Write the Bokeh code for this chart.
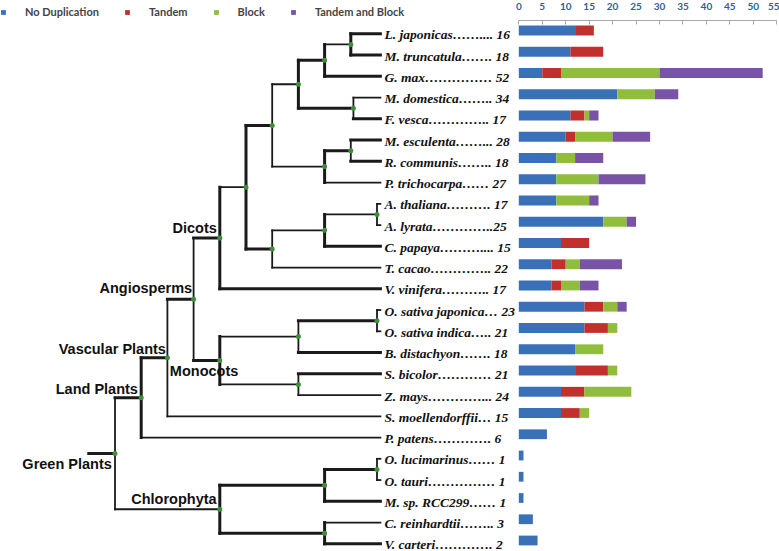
from bokeh.plotting import figure
from bokeh.models import (ColumnDataSource, Legend, LegendItem, Range1d, FixedTicker,
                          LinearAxis)
from bokeh.embed import file_html
from bokeh.resources import INLINE
from bokeh.core.properties import value

# ---------------- data ----------------
species = ["L. japonicas", "M. truncatula", "G. max", "M. domestica", "F. vesca",
           "M. esculenta", "R. communis", "P. trichocarpa", "A. thaliana", "A. lyrata",
           "C. papaya", "T. cacao", "V. vinifera", "O. sativa japonica", "O. sativa indica",
           "B. distachyon", "S. bicolor", "Z. mays", "S. moellendorffii", "P. patens",
           "O. lucimarinus", "O. tauri", "M. sp. RCC299", "C. reinhardtii", "V. carteri"]

species_labels = ["L. japonicas…….... 16", "M. truncatula……. 18", "G. max…………… 52",
                  "M. domestica……..  34", "F. vesca………….. 17", "M. esculenta……...  28",
                  "R. communis…….. 18", "P. trichocarpa…… 27", "A. thaliana………. 17",
                  "A. lyrata…………..25", "C. papaya……….... 15", "T. cacao………….. 22",
                  "V. vinifera……….. 17", "O. sativa japonica… 23", "O. sativa indica….. 21",
                  "B. distachyon……. 18", "S. bicolor………… 21", "Z. mays…………... 24",
                  "S. moellendorffii… 15", "P. patens…………. 6", "O. lucimarinus…… 1",
                  "O. tauri…………… 1", "M. sp. RCC299…… 1", "C. reinhardtii…….. 3",
                  "V. carteri…………. 2"]

no_duplication   = [12, 11, 5, 21, 11, 10, 8, 8, 8, 18, 9, 7, 7, 14, 14, 12, 12, 9, 9, 6, 1, 1, 1, 3, 4]
tandem           = [4, 7, 4, 0, 3, 2, 0, 0, 0, 0, 6, 3, 2, 4, 5, 0, 7, 5, 4, 0, 0, 0, 0, 0, 0]
block            = [0, 0, 21, 8, 1, 8, 4, 9, 7, 5, 0, 3, 4, 3, 2, 6, 2, 10, 2, 0, 0, 0, 0, 0, 0]
tandem_and_block = [0, 0, 22, 5, 2, 8, 6, 10, 2, 2, 0, 9, 4, 2, 0, 0, 0, 0, 0, 0, 0, 0, 0, 0, 0]

categories = ["No Duplication", "Tandem", "Block", "Tandem and Block"]
x_ticks = [0, 5, 10, 15, 20, 25, 30, 35, 40, 45, 50, 55]

# tree topology: internal nodes, depth levels, children (top, bottom)
node_names = ["T", "S", "R", "M", "L", "K", "G", "D", "B", "A", "C", "F", "E",
              "J", "I", "H", "Q", "O", "N", "P", "U", "V", "X", "W"]
node_depth = [1, 2, 3, 4, 5, 6, 7, 8, 9, 10, 10.1, 9, 10,
              7, 9, 11, 5, 8, 11, 8, 5, 9, 11, 9]
node_children = [["S", "U"], ["R", "P. patens"], ["M", "S. moellendorffii"], ["L", "Q"],
                 ["K", "V. vinifera"], ["G", "J"], ["D", "F"], ["B", "C"], ["A", "G. max"],
                 ["L. japonicas", "M. truncatula"], ["M. domestica", "F. vesca"],
                 ["E", "P. trichocarpa"], ["M. esculenta", "R. communis"], ["I", "T. cacao"],
                 ["H", "C. papaya"], ["A. thaliana", "A. lyrata"], ["O", "P"],
                 ["N", "B. distachyon"], ["O. sativa japonica", "O. sativa indica"],
                 ["S. bicolor", "Z. mays"], ["V", "W"], ["X", "M. sp. RCC299"],
                 ["O. lucimarinus", "O. tauri"], ["C. reinhardtii", "V. carteri"]]
root_depth = 0.0
leaf_depth = 11.13

thick_stems = ["L. japonicas", "M. truncatula", "G. max", "B", "C", "F. vesca", "G",
               "M. esculenta", "R. communis", "E", "J", "C. papaya", "V. vinifera", "L", "M",
               "Q", "N", "B. distachyon", "S. bicolor", "R", "S", "V", "X", "M. sp. RCC299",
               "W", "V. carteri"]
thick_verticals = ["A", "B", "D", "F", "I", "K", "L", "Q", "S", "V", "U", "W"]

clade_names = ["Dicots", "Angiosperms", "Vascular Plants", "Land Plants",
               "Green Plants", "Monocots", "Chlorophyta"]
clade_nodes = ["L", "M", "R", "S", "T", "Q", "U"]

# ---------------- styles / layout constants ----------------
colors = ["#3a70b8", "#c2302e", "#91bd3c", "#7853a6"]
clade_dx = [-3, -1.5, -1.5, -3.3, -3.2, 18.5, -3.2]
clade_dy = [-9.5, -11, -9, -8.7, 10.7, 10, -10]
W, H = 779, 551
PX_ROW = 21.25          # px per row
PX_LEVEL = 26.2         # px per tree depth level
X_ROOT = 88.3           # px of tree root
TREE_ROW0, BAR_ROW0 = 33.3, 30.0   # px of first row (tree / bars)
BAR_X0, PX_UNIT = 518.3, 4.69      # px of bar zero, px per gene
AXIS_PX = 19.5                     # px of bar axis line
THICK, THIN = 3.0, 1.8
LEGEND_VY = H - 18

# ---------------- tree geometry ----------------
ypos = {s: i for i, s in enumerate(species)}
depth = dict(zip(node_names, node_depth))
for s in species:
    depth[s] = leaf_depth
kids = dict(zip(node_names, node_children))


def node_y(n):
    if n not in ypos:
        ypos[n] = (node_y(kids[n][0]) + node_y(kids[n][-1])) / 2.0
    return ypos[n]


for n in node_names:
    node_y(n)

x0, y0, x1, y1, lw = [], [], [], [], []
x0.append(root_depth); y0.append(ypos["T"]); x1.append(depth["T"]); y1.append(ypos["T"]); lw.append(THICK)
for n in node_names:
    c = kids[n]
    x0.append(depth[n]); y0.append(ypos[c[0]]); x1.append(depth[n]); y1.append(ypos[c[-1]])
    lw.append(THICK if n in thick_verticals else THIN)
    for ch in c:
        x0.append(depth[n]); y0.append(ypos[ch]); x1.append(depth[ch]); y1.append(ypos[ch])
        lw.append(THICK if ch in thick_stems else THIN)

seg_src = ColumnDataSource(dict(x0=x0, y0=y0, x1=x1, y1=y1, lw=lw))

# ---------------- figure ----------------
p = figure(width=W, height=H,
           x_range=Range1d(-X_ROOT / PX_LEVEL, (W - X_ROOT) / PX_LEVEL),
           y_range=Range1d((H - TREE_ROW0) / PX_ROW, -TREE_ROW0 / PX_ROW),
           x_axis_location=None, y_axis_location=None,
           output_backend="svg", toolbar_location=None, min_border=0)
p.extra_x_ranges = {"bars": Range1d(-BAR_X0 / PX_UNIT, (W - BAR_X0) / PX_UNIT)}
p.extra_y_ranges = {"bars": Range1d((H - BAR_ROW0) / PX_ROW, -BAR_ROW0 / PX_ROW)}
p.grid.visible = False
p.outline_line_color = None

p.segment(x0="x0", y0="y0", x1="x1", y1="y1", line_width="lw", line_color="#1a1a1a",
          line_cap="square", source=seg_src)

p.scatter(x=[depth[n] for n in node_names], y=[ypos[n] for n in node_names],
          size=5, color="#3f8f3a", line_color=None)

lab_src = ColumnDataSource(dict(x=[depth[s] for s in species], y=[ypos[s] for s in species],
                                t=species_labels))
p.text(x="x", y="y", text="t", source=lab_src, x_offset=4, y_offset=1,
       text_font=value("Liberation Serif"), text_font_style="bold italic",
       text_font_size="13.5px", text_align="left", text_baseline="middle", text_color="#111111")

clade_src = ColumnDataSource(dict(x=[depth[n] for n in clade_nodes], y=[ypos[n] for n in clade_nodes],
                                  t=clade_names, dx=clade_dx, dy=clade_dy))
p.text(x="x", y="y", text="t", source=clade_src, x_offset="dx", y_offset="dy",
       text_font=value("Liberation Sans"), text_font_style="bold",
       text_font_size="14.5px", text_align="right", text_baseline="middle", text_color="#111111")

# ---------------- bars ----------------
bar_src = ColumnDataSource(dict(row=list(range(len(species))), no_dup=no_duplication, tandem=tandem,
                                block=block, tb=tandem_and_block))
bar_renderers = p.hbar_stack(["no_dup", "tandem", "block", "tb"], y="row", height=0.46,
                             color=colors, line_color=None, source=bar_src,
                             x_range_name="bars", y_range_name="bars")

ax = LinearAxis(x_range_name="bars", ticker=FixedTicker(ticks=x_ticks), bounds=(0, 55),
                fixed_location=(AXIS_PX - TREE_ROW0) / PX_ROW)
ax.axis_line_color = "#a8a8a8"
ax.major_tick_line_color = "#a8a8a8"
ax.major_tick_in = 4
ax.major_tick_out = 0
ax.minor_tick_line_color = None
ax.major_label_standoff = 10
ax.major_label_text_font = "Lato"
ax.major_label_text_font_style = "bold"
ax.major_label_text_font_size = "10px"
ax.major_label_text_color = "#2e6095"
p.add_layout(ax, "above")

# ---------------- legend ----------------
items = [LegendItem(label=cat, renderers=[r]) for cat, r in zip(categories, bar_renderers)]
legend = Legend(items=items, orientation="horizontal",
                location=(0, LEGEND_VY),
                margin=0, padding=4,
                spacing=25, glyph_width=6, glyph_height=6, label_standoff=19,
                label_text_font="Lato", label_text_font_style="bold", label_text_font_size="11px",
                label_height=12, background_fill_alpha=0, border_line_color=None)
p.add_layout(legend)

open("out.html", "w").write(file_html(p, INLINE))
